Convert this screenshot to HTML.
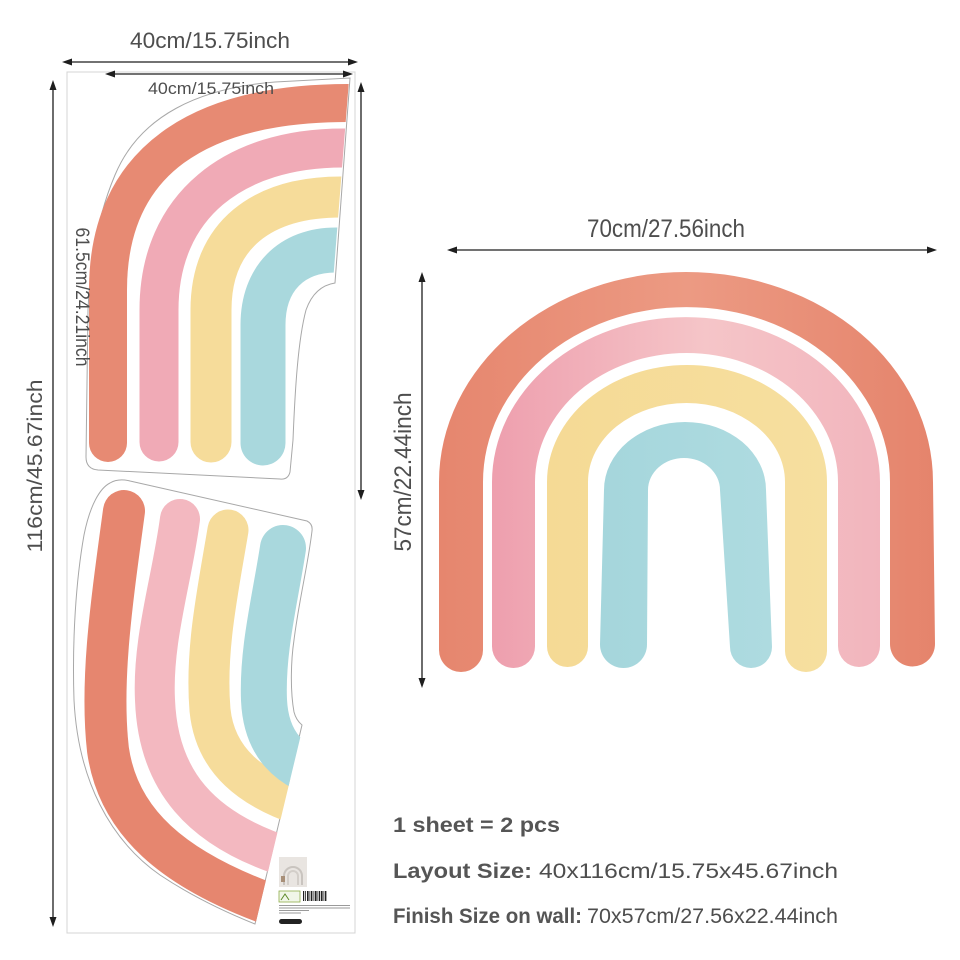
<!DOCTYPE html>
<html><head><meta charset="utf-8"><style>
html,body{margin:0;padding:0;background:#fff;}
svg{display:block;}
text{font-family:"Liberation Sans",sans-serif;fill:#4e4e4e;}
</style></head><body>
<svg width="960" height="960" viewBox="0 0 960 960" xmlns="http://www.w3.org/2000/svg">
<defs>
<clipPath id="cTop"><polygon points="0,60 351,60 349,80 333,282 333,500 0,500"/></clipPath>
<clipPath id="cBot"><polygon points="0,478 400,478 400,718 304,722 254,930 0,930"/></clipPath>
<linearGradient id="gRed" x1="0" y1="0" x2="1" y2="0"><stop offset="0" stop-color="#e6866e"/><stop offset="0.5" stop-color="#ec9a83"/><stop offset="1" stop-color="#e5846c"/></linearGradient>
<linearGradient id="gPink" x1="0" y1="0" x2="1" y2="0"><stop offset="0" stop-color="#ee9fae"/><stop offset="0.55" stop-color="#f5c5c8"/><stop offset="1" stop-color="#f2b5bd"/></linearGradient>
<linearGradient id="gYel" x1="0" y1="0" x2="1" y2="0"><stop offset="0" stop-color="#f5da95"/><stop offset="1" stop-color="#f6df9f"/></linearGradient>
<linearGradient id="gBlue" x1="0" y1="0" x2="1" y2="0"><stop offset="0" stop-color="#a5d6dc"/><stop offset="1" stop-color="#aedbe0"/></linearGradient>
</defs>

<!-- Sheet -->
<rect x="67" y="72" width="288" height="861" fill="#fff" stroke="#d4d4d4" stroke-width="1"/>

<!-- Top piece outline -->
<path d="M275,82 L350,78 L335,283 C322,285 312,293 306,310 C298,340 295,390 293,440 L290,472 Q288,480 280,479 L98,470 Q86,469 86,457 L88,310 C90,260 98,215 115,175 C140,115 200,88 275,82 Z" fill="#fff" stroke="#a8a8a8" stroke-width="1"/>
<!-- Bottom piece outline -->
<path d="M110,483 C100,488 90,505 84,535 C76,580 72,640 74,700 C78,780 110,840 160,875 C190,895 220,910 255,924 L302,725 Q296,720 294,712 C290,690 291,660 294,640 C299,600 308,565 312,531 Q313,524 307,521 L130,481 C122,479 115,480 110,483 Z" fill="#fff" stroke="#a8a8a8" stroke-width="1"/>

<!-- Top piece bands -->
<g clip-path="url(#cTop)" fill="none" stroke-linecap="round">
<path d="M370,103 L348,103 C200,103 108,160 108,290 L108,443" stroke="#e78a73" stroke-width="38"/>
<path d="M370,148 L343,148 C235,148 159,205 159,310 L159,442" stroke="#f0aab6" stroke-width="39"/>
<path d="M370,197 L341,197 C262,197 211,235 211,310 L211,442" stroke="#f6dc9a" stroke-width="41"/>
<path d="M370,250 L336,250 C292,250 263,278 263,325 L263,443" stroke="#a9d8dd" stroke-width="45"/>
</g>

<!-- Bottom piece bands -->
<g clip-path="url(#cBot)" fill="none" stroke-linecap="round">
<path d="M124,511 C112,600 100,680 108,750 C118,820 170,870 280,908" stroke="#e6866f" stroke-width="42"/>
<path d="M180,519 C172,580 152,640 155,700 C158,780 200,830 290,858" stroke="#f3b8c0" stroke-width="40"/>
<path d="M228,530 C218,590 205,650 210,710 C215,760 250,790 310,808" stroke="#f6dc9b" stroke-width="41"/>
<path d="M283,548 C275,600 262,650 264,700 C266,745 290,768 330,778" stroke="#a9d8dd" stroke-width="46"/>
</g>

<!-- product label -->
<rect x="279" y="857" width="28" height="30" fill="#e9e5e1"/>
<path d="M284,885 L284,876 A9,9 0 0 1 302,876 L302,885" fill="none" stroke="#c9c4bf" stroke-width="2"/>
<path d="M288,885 L288,876 A5,5 0 0 1 298,876 L298,885" fill="none" stroke="#d3cec9" stroke-width="2"/>
<rect x="281" y="876" width="4" height="6" fill="#a88f78"/>
<rect x="279" y="891" width="21" height="11" fill="#f1f6e8" stroke="#8fae4a" stroke-width="0.8"/>
<path d="M281,900 L285,894 L289,900" fill="none" stroke="#5d8a2a" stroke-width="1"/>
<g fill="#222">
<rect x="303" y="891" width="1.2" height="10"/><rect x="305" y="891" width="0.8" height="10"/><rect x="307" y="891" width="1.6" height="10"/><rect x="309.5" y="891" width="0.8" height="10"/><rect x="311" y="891" width="1.4" height="10"/><rect x="313.5" y="891" width="0.8" height="10"/><rect x="315" y="891" width="1.6" height="10"/><rect x="317.5" y="891" width="0.8" height="10"/><rect x="319" y="891" width="1.2" height="10"/><rect x="321" y="891" width="1.6" height="10"/><rect x="323.5" y="891" width="0.8" height="10"/><rect x="325" y="891" width="1.4" height="10"/>
</g>
<g fill="#9a9a9a"><rect x="279" y="905" width="71" height="1"/><rect x="279" y="907.5" width="71" height="1"/><rect x="279" y="910" width="30" height="1"/><rect x="279" y="912.5" width="22" height="1"/></g>
<rect x="279" y="919" width="23" height="5" rx="2.5" fill="#222"/>

<!-- Right rainbow -->
<path d="M439,650 L439,482 A247,210 0 0 1 933,482 L935,644 A22.5,22.5 0 0 1 890,644 L890,482 A203.5,175 0 0 0 483,482 L483,650 A22,22 0 0 1 439,650 Z" fill="url(#gRed)"/>
<path d="M492,646.5 L492,482 A194,165 0 0 1 880,482 L880,646 A21,21 0 0 1 838,646 L838,482 A151.5,129 0 0 0 535,482 L535,646.5 A21.5,21.5 0 0 1 492,646.5 Z" fill="url(#gPink)"/>
<path d="M547,646.5 L547,482 A140,117 0 0 1 827,482 L827,651 A21,21 0 0 1 785,651 L785,482 A98.5,79 0 0 0 588,482 L588,646.5 A20.5,20.5 0 0 1 547,646.5 Z" fill="url(#gYel)"/>
<path d="M600,644.5 L604,490 A81,68 0 0 1 766,490 L772,647 A21,21 0 0 1 730,647 L720,490 A36,32 0 0 0 648,490 L647,644.5 A23.5,23.5 0 0 1 600,644.5 Z" fill="url(#gBlue)"/>

<!-- Arrows -->
<g stroke="#1e1e1e" stroke-width="1.3" fill="none">
<line x1="66" y1="62" x2="354" y2="62"/>
<line x1="109" y1="74" x2="349" y2="74"/>
<line x1="53" y1="84" x2="53" y2="923"/>
<line x1="361" y1="86" x2="361" y2="496"/>
<line x1="451" y1="250" x2="933" y2="250"/>
<line x1="422" y1="276" x2="422" y2="684"/>
</g>
<g fill="#1e1e1e">
<polygon points="62,62 72,58.5 72,65.5"/><polygon points="358,62 348,58.5 348,65.5"/>
<polygon points="105,74 115,70.5 115,77.5"/><polygon points="353,74 343,70.5 343,77.5"/>
<polygon points="53,80 49.5,90 56.5,90"/><polygon points="53,927 49.5,917 56.5,917"/>
<polygon points="361,82 357.5,92 364.5,92"/><polygon points="361,500 357.5,490 364.5,490"/>
<polygon points="447,250 457,246.5 457,253.5"/><polygon points="937,250 927,246.5 927,253.5"/>
<polygon points="422,272 418.5,282 425.5,282"/><polygon points="422,688 418.5,678 425.5,678"/>
</g>

<!-- Dimension labels -->
<text x="130" y="48" font-size="22" textLength="160" lengthAdjust="spacingAndGlyphs">40cm/15.75inch</text>
<text x="148" y="94" font-size="17" textLength="126" lengthAdjust="spacingAndGlyphs">40cm/15.75inch</text>
<text transform="translate(42,466) rotate(-90)" x="0" y="0" text-anchor="middle" font-size="21" textLength="173" lengthAdjust="spacingAndGlyphs">116cm/45.67inch</text>
<text transform="translate(76,297) rotate(90)" x="0" y="0" text-anchor="middle" font-size="19" textLength="139" lengthAdjust="spacingAndGlyphs">61.5cm/24.21inch</text>
<text x="587" y="237" font-size="25" textLength="158" lengthAdjust="spacingAndGlyphs">70cm/27.56inch</text>
<text transform="translate(411,472) rotate(-90)" x="0" y="0" text-anchor="middle" font-size="24" textLength="159" lengthAdjust="spacingAndGlyphs">57cm/22.44inch</text>

<!-- Info text -->
<text x="393" y="832" font-size="21" font-weight="bold" fill="#555" textLength="167" lengthAdjust="spacingAndGlyphs" style="fill:#555">1 sheet = 2 pcs</text>
<text x="393" y="878" font-size="21" font-weight="bold" textLength="139" lengthAdjust="spacingAndGlyphs" style="fill:#555">Layout Size:</text>
<text x="539" y="878" font-size="21" textLength="299" lengthAdjust="spacingAndGlyphs">40x116cm/15.75x45.67inch</text>
<text x="393" y="923" font-size="21" font-weight="bold" textLength="189" lengthAdjust="spacingAndGlyphs" style="fill:#555">Finish Size on wall:</text>
<text x="587" y="923" font-size="21" textLength="251" lengthAdjust="spacingAndGlyphs">70x57cm/27.56x22.44inch</text>
</svg>
</body></html>
